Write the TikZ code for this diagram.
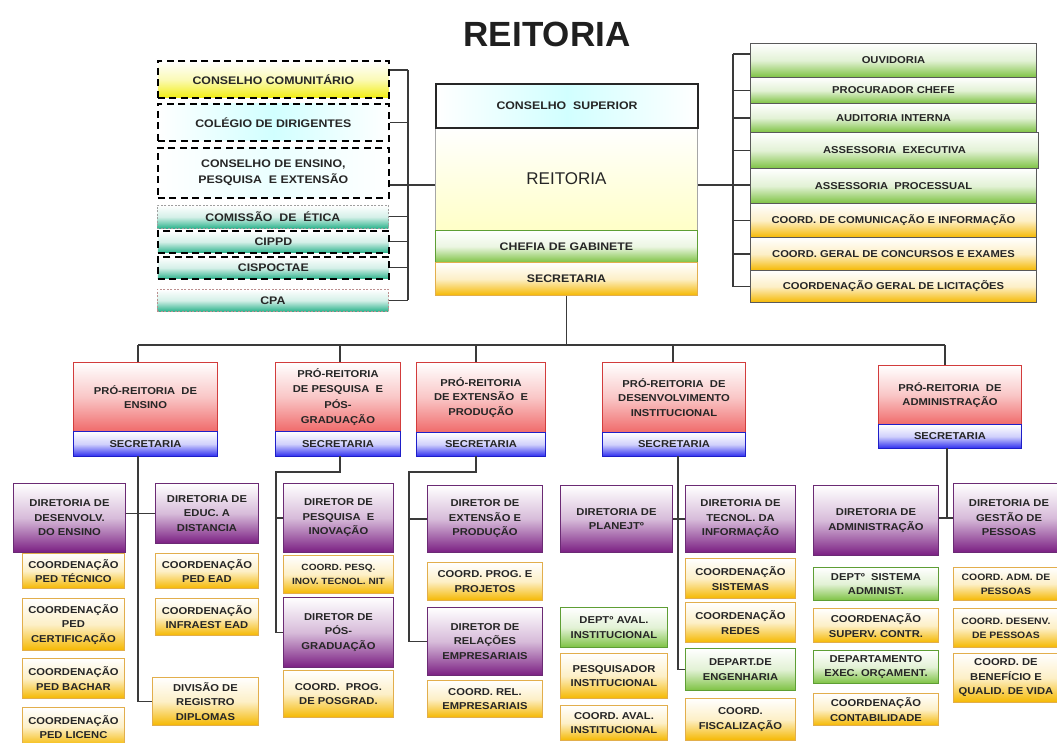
\documentclass[tikz,border=0pt]{standalone}
\usepackage{fontspec}
\setmainfont{Liberation Sans}
\newfontfamily\lblfont{Liberation Sans}[FakeStretch=1.12]
\definecolor{gold}{HTML}{F5B800}
\definecolor{goldline}{HTML}{E2AE4C}
\definecolor{grn}{HTML}{7DC242}
\definecolor{grnline}{HTML}{5E9E34}
\definecolor{purp}{HTML}{7A1E82}
\definecolor{purpline}{HTML}{6B2A74}
\definecolor{rd}{HTML}{F06A6A}
\definecolor{rdline}{HTML}{D23C3C}
\definecolor{bl}{HTML}{2A2AF0}
\definecolor{blline}{HTML}{1E1EC8}
\definecolor{tealc}{HTML}{2BB38C}
\definecolor{ylw}{HTML}{F2EE10}
\definecolor{ink}{HTML}{262626}
\definecolor{wire}{HTML}{3A3A3A}
\newcommand\bx[7]{\pgfmathsetmacro\bxw{#5-#3}\pgfmathsetmacro\bxh{#6-#4}%
  \node[#1,anchor=north west,minimum width=\bxw pt,minimum height=\bxh pt] (#2) at (#3,#4) {#7};}
\tikzset{
 wire/.style={draw=wire, line width=1.1pt},
 lbl/.style={font=\lblfont\bfseries\fontsize{10}{14.5}\selectfont, text=ink, align=center, inner sep=1pt},
 lbls/.style={font=\lblfont\bfseries\fontsize{9.3}{14}\selectfont},
 lblL/.style={font=\lblfont\bfseries\fontsize{11}{15.5}\selectfont, text=ink, align=center, inner sep=1pt},
 ybox/.style={lbl, draw=goldline, line width=0.9pt, top color=white, bottom color=gold, middle color=gold!22},
 gbox/.style={lbl, draw=grnline, line width=0.9pt, top color=white, bottom color=grn, middle color=grn!22},
 pbox/.style={lbl, draw=purpline, line width=1pt, top color=white, bottom color=purp, middle color=purp!30},
 rbox/.style={lbl, draw=rdline, line width=1pt, top color=white, bottom color=rd, middle color=rd!38},
 bbox/.style={lbl, draw=blline, line width=1pt, top color=white, bottom color=bl, middle color=bl!22},
 rgbox/.style={lbl, draw=black!65, line width=1pt, top color=white, bottom color=grn, middle color=grn!22},
 rybox/.style={lbl, draw=black!65, line width=1pt, top color=white, bottom color=gold, middle color=gold!22},
 dthick/.style={draw=black, line width=1.7pt, dash pattern=on 7pt off 4.5pt},
 dthin/.style={draw=gray!75, line width=0.8pt, dash pattern=on 2pt off 1.5pt},
 tbox/.style={lblL, top color=white, bottom color=tealc, middle color=tealc!20},
 cglow/.style={left color=white, right color=white, middle color=cyan!18},
}
\begin{document}
\begin{tikzpicture}[x=1pt,y=-1pt]
\fill[white] (0,0) rectangle (1057,742);
\useasboundingbox (0,0) rectangle (1057,742);

% title
\node[font=\bfseries\fontsize{35}{37}\selectfont, text=black!88] (title) at (547,34) {REITORIA};

% left column
\bx{lblL, dthick, top color=white, bottom color=ylw, middle color=ylw!30}{cc}{157}{60}{388}{97}{CONSELHO COMUNITÁRIO}
\bx{lblL, dthick, cglow}{cd}{157}{103}{388}{140}{COLÉGIO DE DIRIGENTES}
\bx{lblL, dthick, left color=white, right color=white, middle color=cyan!8}{cepe}{157}{147}{388}{197}{CONSELHO DE ENSINO,\\PESQUISA \ E EXTENSÃO}
\bx{tbox, dthin}{ce}{157}{205}{388}{228}{COMISSÃO \ DE \ ÉTICA}
\bx{tbox, dthick}{cippd}{157}{230}{388}{252}{CIPPD}
\bx{tbox, dthick}{cisp}{157}{256}{388}{278}{CISPOCTAE}
\bx{tbox, dthin, draw=red!25!gray!70}{cpa}{157}{289}{388}{311}{CPA}

% central block
\bx{lbl, draw=gray!70, line width=0.8pt, top color=white, bottom color=yellow!22, font=\fontsize{17}{19}\selectfont}{rei}{435}{127}{697}{230}{REITORIA}
\bx{lblL, draw=grnline, line width=0.9pt, top color=white, bottom color=grn, middle color=grn!15}{chefia}{435}{230}{697}{262}{CHEFIA DE GABINETE}
\bx{lblL, draw=goldline, line width=0.9pt, top color=white, bottom color=gold, middle color=gold!22}{sec}{435}{262}{697}{295}{SECRETARIA}
\bx{lblL, draw=black!85, line width=2pt, cglow}{cs}{435}{83}{697}{127}{CONSELHO \ SUPERIOR}

% right column
\bx{rgbox}{ouv}{750}{43}{1036}{77}{OUVIDORIA}
\bx{rgbox}{proc}{750}{77}{1036}{103}{PROCURADOR CHEFE}
\bx{rgbox}{aud}{750}{103}{1036}{132}{AUDITORIA INTERNA}
\bx{rgbox}{aexe}{750}{132}{1038}{168}{ASSESSORIA \ EXECUTIVA}
\bx{rgbox}{apro}{750}{168}{1036}{203}{ASSESSORIA \ PROCESSUAL}
\bx{rybox}{ccom}{750}{203}{1036}{237}{COORD. DE COMUNICAÇÃO E INFORMAÇÃO}
\bx{rybox}{cger}{750}{237}{1036}{270}{COORD. GERAL DE CONCURSOS E EXAMES}
\bx{rybox}{clic}{750}{270}{1036}{302}{COORDENAÇÃO GERAL DE LICITAÇÕES}

% pro-reitorias
\bx{rbox}{pe}{73}{362}{217}{431}{PRÓ-REITORIA \ DE\\ENSINO}
\bx{bbox}{pes}{73}{431}{217}{456}{SECRETARIA}
\bx{rbox, font=\lblfont\bfseries\fontsize{10}{15.5}\selectfont}{pp}{275}{362}{400}{431}{PRÓ-REITORIA\\DE PESQUISA \ E\\PÓS-\\GRADUAÇÃO}
\bx{bbox}{pps}{275}{431}{400}{456}{SECRETARIA}
\bx{rbox}{px}{416}{362}{545}{432}{PRÓ-REITORIA\\DE EXTENSÃO \ E\\PRODUÇÃO}
\bx{bbox}{pxs}{416}{432}{545}{456}{SECRETARIA}
\bx{rbox}{pdi}{602}{362}{745}{432}{PRÓ-REITORIA \ DE\\DESENVOLVIMENTO\\INSTITUCIONAL}
\bx{bbox}{pdis}{602}{432}{745}{456}{SECRETARIA}
\bx{rbox}{pad}{878}{365}{1021}{424}{PRÓ-REITORIA \ DE\\ADMINISTRAÇÃO}
\bx{bbox}{pads}{878}{424}{1021}{448}{SECRETARIA}

% ensino
\bx{pbox}{dde}{13}{483}{125}{552}{DIRETORIA DE\\DESENVOLV.\\DO ENSINO}
\bx{ybox}{cpt}{22}{553}{124}{588}{COORDENAÇÃO\\PED TÉCNICO}
\bx{ybox}{cpc}{22}{598}{124}{650}{COORDENAÇÃO\\PED\\CERTIFICAÇÃO}
\bx{ybox}{cpb}{22}{658}{124}{698}{COORDENAÇÃO\\PED BACHAR}
\bx{ybox}{cpl}{22}{707}{124}{746}{COORDENAÇÃO\\PED LICENC}
\bx{pbox}{dead}{155}{483}{258}{543}{DIRETORIA DE\\EDUC. A\\DISTANCIA}
\bx{ybox}{cpead}{155}{553}{258}{588}{COORDENAÇÃO\\PED EAD}
\bx{ybox}{cie}{155}{598}{258}{635}{COORDENAÇÃO\\INFRAEST EAD}
\bx{ybox}{div}{152}{677}{258}{725}{DIVISÃO DE\\REGISTRO\\DIPLOMAS}

% pesquisa
\bx{pbox}{dpi}{283}{483}{393}{552}{DIRETOR DE\\PESQUISA \ E\\INOVAÇÃO}
\bx{ybox, font=\lblfont\bfseries\fontsize{9}{14}\selectfont}{cpn}{283}{555}{393}{593}{COORD. PESQ.\\INOV. TECNOL. NIT}
\bx{pbox}{dpg}{283}{597}{393}{667}{DIRETOR DE\\PÓS-\\GRADUAÇÃO}
\bx{ybox}{cpp}{283}{670}{393}{717}{COORD. \ PROG.\\DE POSGRAD.}

% extensao
\bx{pbox}{dep}{427}{485}{542}{552}{DIRETOR DE\\EXTENSÃO E\\PRODUÇÃO}
\bx{ybox}{cpj}{427}{562}{542}{600}{COORD. PROG. E\\PROJETOS}
\bx{pbox}{dre}{427}{607}{542}{675}{DIRETOR DE\\RELAÇÕES\\EMPRESARIAIS}
\bx{ybox}{cre}{427}{680}{542}{717}{COORD. REL.\\EMPRESARIAIS}

% desenvolvimento institucional
\bx{pbox}{dpl}{560}{485}{672}{552}{DIRETORIA DE\\PLANEJTº}
\bx{pbox}{dti}{685}{485}{795}{552}{DIRETORIA DE\\TECNOL. DA\\INFORMAÇÃO}
\bx{ybox}{csis}{685}{558}{795}{598}{COORDENAÇÃO\\SISTEMAS}
\bx{ybox}{cred}{685}{602}{795}{642}{COORDENAÇÃO\\REDES}
\bx{gbox}{deng}{685}{648}{795}{690}{DEPART.DE\\ENGENHARIA}
\bx{ybox}{cfis}{685}{698}{795}{740}{COORD.\\FISCALIZAÇÃO}
\bx{gbox}{dai}{560}{607}{667}{647}{DEPTº AVAL.\\INSTITUCIONAL}
\bx{ybox}{pins}{560}{653}{667}{698}{PESQUISADOR\\INSTITUCIONAL}
\bx{ybox}{cai}{560}{705}{667}{740}{COORD. AVAL.\\INSTITUCIONAL}

% administracao
\bx{pbox}{dad}{813}{485}{938}{555}{DIRETORIA DE\\ADMINISTRAÇÃO}
\bx{pbox}{dgp}{953}{483}{1064}{552}{DIRETORIA DE\\GESTÃO DE\\PESSOAS}
\bx{gbox}{dsa}{813}{567}{938}{600}{DEPTº \ SISTEMA\\ADMINIST.}
\bx{ybox}{csc}{813}{608}{938}{642}{COORDENAÇÃO\\SUPERV. CONTR.}
\bx{gbox}{deo}{813}{650}{938}{683}{DEPARTAMENTO\\EXEC. ORÇAMENT.}
\bx{ybox}{cct}{813}{693}{938}{725}{COORDENAÇÃO\\CONTABILIDADE}
\bx{ybox, lbls}{cap}{953}{567}{1058}{600}{COORD. ADM. DE\\PESSOAS}
\bx{ybox, lbls}{cdp}{953}{608}{1058}{647}{COORD. DESENV.\\DE PESSOAS}
\bx{ybox}{cbq}{953}{653}{1058}{702}{COORD. DE\\BENEFÍCIO E\\QUALID. DE VIDA}

% ---- connectors ----
% left bracket
\coordinate (lbj) at (408,185);
\coordinate (lbt) at (408,70);
\draw[wire] (cc.east |- lbt) -- (lbt);
\foreach \n in {cd,ce,cippd,cisp,cpa} \draw[wire] (\n.east) -- (\n.east -| lbj);
\draw[wire] (lbt) -- (cpa.east -| lbj);
\draw[wire] (cepe.east |- lbj) -- (lbj -| rei.west);
% right bracket
\coordinate (rbj) at (733,185);
\coordinate (rbt) at (733,54);
\draw[wire] (ouv.west |- rbt) -- (rbt);
\foreach \n in {proc,aud,aexe,ccom,cger,clic} \draw[wire] (\n.west) -- (\n.west -| rbj);
\draw[wire] (rbt) -- (clic.west -| rbj);
\draw[wire] (rbj -| rei.east) -- (rbj -| apro.west);
% bus
\coordinate (v1) at (138,345);
\coordinate (v2) at (340,345);
\coordinate (v3) at (476,345);
\coordinate (v4) at (673,345);
\coordinate (v5) at (945,345);
\draw[wire] (sec.south) -- (sec.south |- v1);
\draw[wire] (v1) -- (v5);
\draw[wire] (v1) -- (v1 |- pe.north);
\draw[wire] (v2) -- (v2 |- pp.north);
\draw[wire] (v3) -- (v3 |- px.north);
\draw[wire] (v4) -- (v4 |- pdi.north);
\draw[wire] (v5) -- (v5 |- pad.north);
% ensino
\coordinate (e1) at (138,456);
\draw[wire] (e1) -- (e1 |- div.west) -- (div.west);
\draw[wire] (dde.east |- dead.west) -- (dead.west);
% pesquisa
\coordinate (p0) at (340,456);
\coordinate (p1) at (276,472);
\draw[wire] (p0) -- (p0 |- p1) -- (p1) -- (p1 |- dpg.west) -- (dpg.west);
\draw[wire] (p1 |- dpi.west) -- (dpi.west);
% extensao
\coordinate (x0) at (476,456);
\coordinate (x1) at (409,472);
\draw[wire] (x0) -- (x0 |- x1) -- (x1) -- (x1 |- dre.west) -- (dre.west);
\draw[wire] (x1 |- dep.west) -- (dep.west);
% desenvolvimento institucional
\coordinate (d1) at (678,456);
\draw[wire] (d1) -- (d1 |- deng.west) -- (deng.west);
\draw[wire] (dpl.east) -- (dti.west);
% administracao
\coordinate (a1) at (947,448);
\draw[wire] (a1) -- (a1 |- dgp.west);
\draw[wire] (dad.east |- dgp.west) -- (dgp.west);
\end{tikzpicture}
\end{document}
